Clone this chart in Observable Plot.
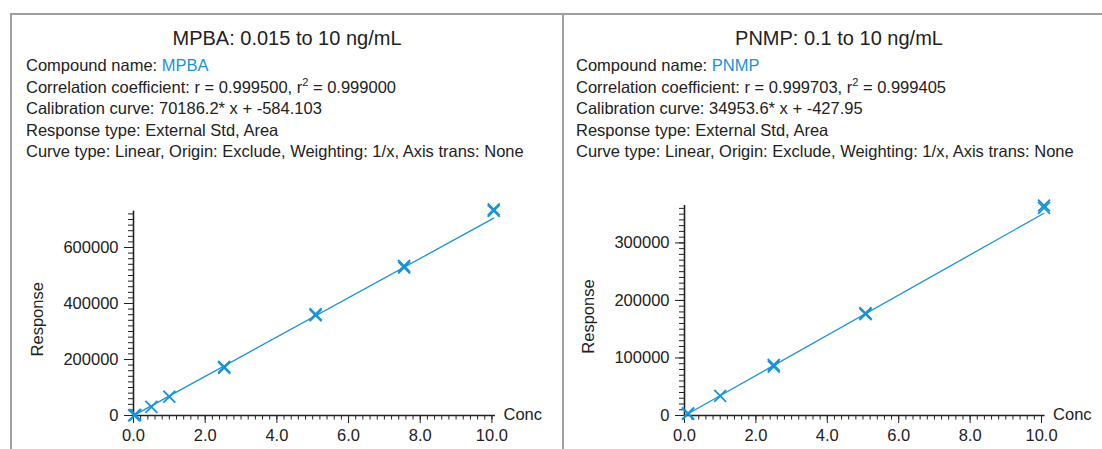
<!DOCTYPE html>
<html>
<head>
<meta charset="utf-8">
<script src="https://cdn.jsdelivr.net/npm/d3@7"></script>
<script src="https://cdn.jsdelivr.net/npm/@observablehq/plot@0.6"></script>
<style>
  body { margin: 0; background: #fff; font-family: "Liberation Sans", Arial, sans-serif; color: #222; }
  #root { position: relative; width: 1102px; height: 449px; overflow: hidden; background: #fff; }
  .hline { position: absolute; left: 10px; top: 13px; width: 1092px; height: 2px; background: #a0a0a0; z-index: 5; }
  .vline { position: absolute; top: 13px; width: 2px; height: 436px; background: #a0a0a0; z-index: 5; }
  .title { position: absolute; top: 27px; font-size: 20px; text-align: center; white-space: nowrap; }
  .info { position: absolute; top: 55px; font-size: 16.5px; line-height: 21.5px; white-space: nowrap; }
  .info .cmp { color: #1a93d6; }
  .info sup { font-size: 11px; vertical-align: 7px; line-height: 0; }
  .chart { position: absolute; top: 190px; }
  .chart svg { overflow: visible; }
</style>
</head>
<body>
<div id="root">
  <div class="hline"></div>
  <div class="vline" style="left:10px"></div>
  <div class="vline" style="left:562px"></div>

  <div class="title" id="t1" style="left:12px;width:550px"></div>
  <div class="info" id="i1" style="left:26px"></div>
  <div class="chart" id="c1" style="left:0px"></div>

  <div class="title" id="t2" style="left:564px;width:550px"></div>
  <div class="info" id="i2" style="left:576px"></div>
  <div class="chart" id="c2" style="left:551px"></div>
</div>
<script>
// ---------- data ----------
const titles = ["MPBA: 0.015 to 10 ng/mL", "PNMP: 0.1 to 10 ng/mL"];
const compounds = ["MPBA", "PNMP"];
const rValues = ["0.999500", "0.999703"];
const r2Values = ["0.999000", "0.999405"];
const curves = ["70186.2* x + -584.103", "34953.6* x + -427.95"];
const responseType = "External Std, Area";
const curveType = "Linear, Origin: Exclude, Weighting: 1/x, Axis trans: None";

// MPBA calibration points (Conc, Response), replicates included
const mpbaConc = [0.015, 0.05, 0.5, 1.0, 2.53, 2.53, 5.08, 5.08, 7.55, 7.55, 10.05, 10.05];
const mpbaResp = [600, 2500, 31000, 67000, 170000, 174000, 358000, 362000, 528000, 534000, 731000, 736000];
// MPBA fitted line ends
const mpbaFitConc = [0, 10.05];
const mpbaFitResp = [-584, 704800];

// PNMP calibration points
const pnmpConc = [0.1, 0.1, 1.0, 2.5, 2.5, 5.07, 5.07, 10.07, 10.07];
const pnmpResp = [3000, 3600, 34000, 85000, 88000, 176000, 178000, 361000, 365000];
const pnmpFitConc = [0, 10.07];
const pnmpFitResp = [-428, 351600];

// axis ticks
const xMajor = [0, 2, 4, 6, 8, 10];
const xMinor = d3.range(0, 51).map(i => i / 5);
const mpbaYMajor = [0, 200000, 400000, 600000];
const mpbaYMinor = d3.range(0, 37).map(i => i * 20000);
const pnmpYMajor = [0, 100000, 200000, 300000];
const pnmpYMinor = d3.range(0, 37).map(i => i * 10000);

// ---------- text blocks ----------
const blue = "#1a93d6";
const ink = "#222";
function info(i) {
  return `Compound name: <span class="cmp">${compounds[i]}</span><br>` +
    `Correlation coefficient: r = ${rValues[i]}, r<sup>2</sup> = ${r2Values[i]}<br>` +
    `Calibration curve: ${curves[i]}<br>` +
    `Response type: ${responseType}<br>` +
    `Curve type: ${curveType}`;
}
document.getElementById("t1").textContent = titles[0];
document.getElementById("t2").textContent = titles[1];
document.getElementById("i1").innerHTML = info(0);
document.getElementById("i2").innerHTML = info(1);

// ---------- charts ----------
function chart({conc, resp, fitConc, fitResp, yMax, yMajor, yMinor, width, marginTop, marginRight}) {
  const pts = conc.map((c, i) => ({c, r: resp[i]}));
  const fit = fitConc.map((c, i) => ({c, r: fitResp[i]}));
  const fs = 16.5;
  return Plot.plot({
    width, height: 259,
    marginLeft: 133, marginRight, marginTop, marginBottom: 34,
    style: {fontFamily: '"Liberation Sans", Arial, sans-serif', fontSize: "16.5px", color: ink, background: "transparent"},
    x: {domain: [0, 10.1]},
    y: {domain: [0, yMax]},
    marks: [
      Plot.axisX({ticks: xMinor, tickSize: 4.5, tickWidth: 1.3, stroke: ink, text: null, label: null}),
      Plot.axisX({ticks: xMajor, tickSize: 8, tickWidth: 1.3, stroke: ink, tickFormat: d => d.toFixed(1), tickPadding: 6, fill: ink, label: null, fontSize: fs}),
      Plot.axisY({ticks: yMinor, tickSize: 5, tickWidth: 1.3, stroke: ink, text: null, label: null}),
      Plot.axisY({ticks: yMajor, tickSize: 9, tickWidth: 1.3, stroke: ink, tickFormat: d => String(d), tickPadding: 6, fill: ink, label: null, fontSize: fs}),
      Plot.ruleY([0], {stroke: ink, strokeWidth: 1.6}),
      Plot.ruleX([0], {stroke: ink, strokeWidth: 1.6}),
      Plot.line(fit, {x: "c", y: "r", stroke: blue, strokeWidth: 1.3}),
      Plot.dot(pts, {x: "c", y: "r", symbol: "times", r: 5.5, stroke: blue, strokeWidth: 1.8}),
      Plot.text(["Conc"], {frameAnchor: "bottom-right", text: d => d, textAnchor: "start", dx: 8, dy: 4, fontSize: fs, fill: ink}),
      Plot.text(["Response"], {frameAnchor: "left", text: d => d, rotate: -90, textAnchor: "middle", dx: -96, dy: 6, fontSize: fs, fill: ink})
    ]
  });
}

document.getElementById("c1").append(chart({
  conc: mpbaConc, resp: mpbaResp, fitConc: mpbaFitConc, fitResp: mpbaFitResp,
  yMax: 730000, yMajor: mpbaYMajor, yMinor: mpbaYMinor,
  width: 560, marginTop: 20.6, marginRight: 65
}));
document.getElementById("c2").append(chart({
  conc: pnmpConc, resp: pnmpResp, fitConc: pnmpFitConc, fitResp: pnmpFitResp,
  yMax: 365000, yMajor: pnmpYMajor, yMinor: pnmpYMinor,
  width: 551, marginTop: 15, marginRight: 57.4
}));
</script>
</body>
</html>
